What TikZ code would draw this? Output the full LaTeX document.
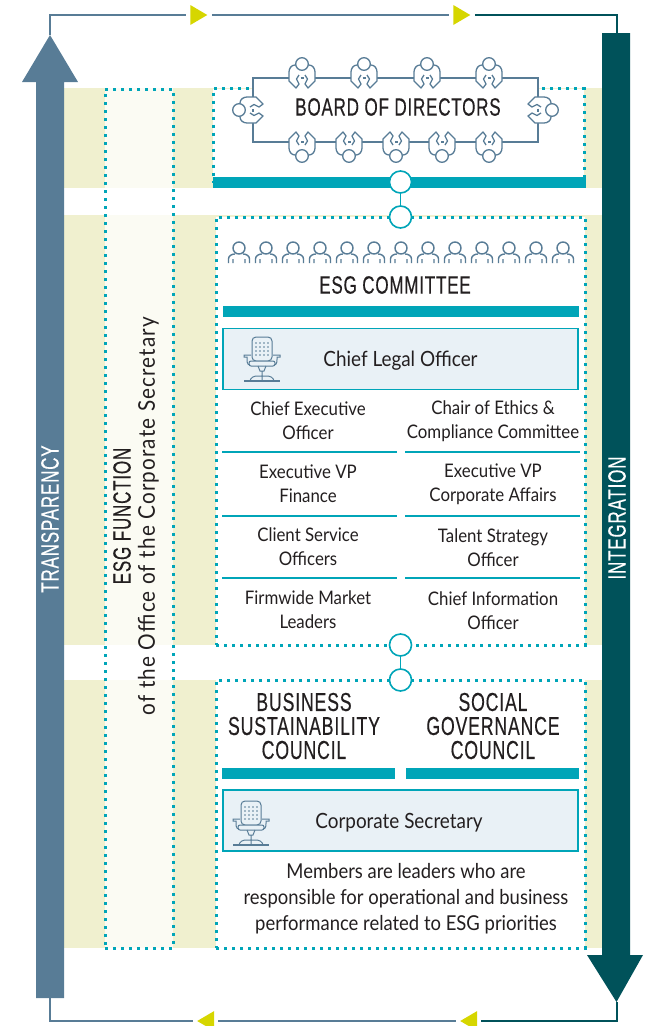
\documentclass[tikz,border=0pt]{standalone}
\usepackage{fontspec}
\usepackage{tikz}
\usetikzlibrary{positioning,calc,shapes.geometric}
\setmainfont[FakeStretch=0.9]{Lato}
\newfontfamily\headfont[FakeStretch=0.68,FakeBold=0.3,LetterSpace=3.2]{Liberation Sans}
\newfontfamily\widefont[FakeStretch=0.9,LetterSpace=5]{Lato}
\definecolor{esgteal}{HTML}{00A5B8}
\definecolor{esgblue}{HTML}{587C96}
\definecolor{esgdark}{HTML}{00525A}
\definecolor{esgband}{HTML}{F0F0CF}
\definecolor{esgpale}{HTML}{FBFBF3}
\definecolor{esgbox}{HTML}{E9F1F6}
\definecolor{esgtext}{HTML}{231F20}
\definecolor{esgyellow}{HTML}{D6D600}

\tikzset{
  seated/.pic={
    \fill[white] (-6,10) -- (-13,3) -- (-13,-13) -- (13,-13) -- (13,3) -- (6,10) -- cycle;
    \draw[esgblue,line width=1.3pt,line join=round]
      (-3,-3) -- (-5.5,1) -- (-3,6) -- (-6,10) -- (-13,3) -- (-13,-6) to[out=90,in=180] (-7,-13) -- (7,-13)
      to[out=0,in=90] (13,-6) -- (13,3) -- (6,10) -- (3,6) -- (5.5,1) -- (3,-3);
    \draw[esgblue,line width=1.1pt] (-1.5,0) -- (1.5,0);
    \draw[esgblue,line width=1.3pt,fill=white] (0,-14) circle[radius=6.3];
  },
  member/.pic={
    \draw[esgblue,line width=1.4pt] (0,-8) circle[radius=6];
    \draw[esgblue,line width=1.4pt] (-10.5,7) -- (-10.5,3) to[out=90,in=180] (-4,-2)
      (10.5,7) -- (10.5,3) to[out=90,in=0] (4,-2)
      (-6,7) -- (-6,3) (6,7) -- (6,3);
  },
  officechair/.pic={
    \draw[esgblue,line width=1pt,rounded corners=4pt] (-10,-20) rectangle (10,-44);
    \foreach \i in {-6,-2,2,6}
      \foreach \j in {-38,-34,-30,-26}
        \fill[esgblue] (\i,\j) circle[radius=.8];
    \draw[esgblue,line width=1pt,fill=esgbox,rounded corners=2pt] (-13,-20) rectangle (13,-15);
    \draw[esgblue,line width=1pt] (-4,-15) -- (-2,-10) -- (2,-10) -- (4,-15)
      (0,-10) -- (0,0)
      (-12,0) to[out=80,in=180] (-5,-5) -- (5,-5) to[out=0,in=100] (12,0)
      (-12,-16) to[out=180,in=-90] (-15,-24) -- (-18,-24) -- (-18,-26) -- (-11,-26)
      (12,-16) to[out=0,in=-90] (15,-24) -- (18,-24) -- (18,-26) -- (11,-26);
    \draw[esgblue,line width=1.6pt] (-18,0) -- (18,0);
  }
}

\begin{document}
\begin{tikzpicture}[x=1pt,y=-1pt,
  band/.style={fill=esgband},
  dots/.style={draw=esgteal,line width=3pt,dash pattern=on 3pt off 5pt},
  panel/.style={dots,fill=white,inner sep=0pt},
  bar/.style={fill=esgteal,inner sep=0pt,minimum height=11pt},
  linkdot/.style={circle,draw=esgteal,line width=1.6pt,fill=white,minimum size=22pt,inner sep=0pt},
  link/.style={draw=esgteal,line width=1.6pt},
  title/.style={font=\headfont\fontsize{25}{24}\selectfont,text=esgtext,align=center,inner sep=0pt},
  council/.style={title,font=\headfont\fontsize{26}{24}\selectfont},
  body/.style={font=\fontsize{18.7}{24}\selectfont,text=esgtext,align=center,inner sep=0pt},
  rolename/.style={body,font=\fontsize{21}{24}\selectfont},
  rolebox/.style={draw=esgteal,line width=1.8pt,fill=esgbox,inner sep=0pt,minimum width=355pt,minimum height=61pt},
  flag/.style={isosceles triangle,isosceles triangle stretches,fill=esgyellow,inner sep=0pt,
    minimum width=20pt,minimum height=17pt},
  blueline/.style={draw=esgblue,line width=2.4pt},
  darkline/.style={draw=esgdark,line width=2.4pt}]

  \useasboundingbox (0,0) rectangle (649,1026);

  % bands behind everything
  \foreach \ytop/\ybot in {88/188,215/645,680/948}{
    \fill[band] (64,\ytop) rectangle (602,\ybot);
    \fill[esgpale] (105,\ytop) rectangle (173,\ybot);
  }
  \node[dots,inner sep=0pt,minimum width=68pt,minimum height=859pt] (esgcolumn) at (139,518.5) {};
  \node[rotate=90,align=center,inner sep=0pt,text=esgtext] (esgfunction) at (136,516)
    {{\headfont\fontsize{25}{28}\selectfont ESG FUNCTION}\\[6pt]
     {\widefont\fontsize{23}{28}\selectfont of the Office of the Corporate Secretary}};

  % board
  \node[panel,minimum width=371pt,minimum height=94pt] (boardpanel) at (398.5,135.5) {};
  \node[draw=esgblue,line width=1.5pt,fill=white,inner sep=0pt,minimum width=285pt,minimum height=64pt] (board) at (395.5,110) {};
  \foreach \px in {302,364,427,489}
    \pic at (\px,78) {seated};
  \foreach \px in {302,349,396,442,489}
    \pic[rotate=180] at (\px,142) {seated};
  \pic[rotate=90] at (253,110) {seated};
  \pic[rotate=-90] at (538,110) {seated};
  \node[title] (boardtitle) at (398,107) {BOARD OF DIRECTORS};
  \node[bar,minimum width=373pt] (boardbar) at (399.5,182.5) {};

  % committee
  \node[panel,minimum width=369pt,minimum height=428pt] (esgpanel) at (400.5,431) {};
  \foreach \i in {0,...,12}
    \pic at (239+27*\i,256) {member};
  \node[title] (esgtitle) at (395,285) {ESG COMMITTEE};
  \node[bar,minimum width=356pt] (esgbar) at (401,311.5) {};
  \node[rolebox] (legal) at (400.5,359) {};
  \pic at (262,381) {officechair};
  \node[rolename] (legaltext) at (400.5,361) {Chief Legal Officer};

  \node[body] (ceo) at (308,420.5) {Chief Executive\\Officer};
  \node[body] (ethics) at (493,421.5) {Chair of Ethics \&\\Compliance Committee};
  \node[body] (finance) at (308,483.5) {Executive VP\\Finance};
  \node[body] (affairs) at (493,484.5) {Executive VP\\Corporate Affairs};
  \node[body] (client) at (308,546.5) {Client Service\\Officers};
  \node[body] (talent) at (493,547.5) {Talent Strategy\\Officer};
  \node[body] (market) at (308,609.5) {Firmwide Market\\Leaders};
  \node[body] (info) at (493,610.5) {Chief Information\\Officer};
  \foreach \ry in {452,516,578}{
    \draw[esgteal,line width=1.2pt] (222,\ry) -- (397,\ry);
    \draw[esgteal,line width=1.2pt] (405,\ry) -- (580,\ry);
  }

  % councils
  \node[panel,minimum width=369pt,minimum height=268pt] (councilpanel) at (400.5,814) {};
  \node[council] (business) at (304,726) {BUSINESS\\SUSTAINABILITY\\COUNCIL};
  \node[council] (social) at (493,726) {SOCIAL\\GOVERNANCE\\COUNCIL};
  \node[bar,minimum width=173pt] (businessbar) at (308.5,773.5) {};
  \node[bar,minimum width=173pt] (socialbar) at (492.5,773.5) {};
  \node[rolebox] (secretary) at (400.5,820.5) {};
  \pic at (251,845) {officechair};
  \node[rolename] (secretarytext) at (399,823) {Corporate Secretary};
  \node[body,font=\fontsize{20.5}{26}\selectfont] (members) at (406,899)
    {Members are leaders who are\\responsible for operational and business\\performance related to ESG priorities};

  % links
  \node[linkdot] (linka) at (400.5,182) {};
  \node[linkdot] (linkb) at (400.5,217) {};
  \node[linkdot] (linkc) at (400.5,645) {};
  \node[linkdot] (linkd) at (400.5,680) {};
  \draw[link] (linka) -- (linkb);
  \draw[link] (linkc) -- (linkd);

  % big arrows
  \fill[esgblue] (50,35) -- (78,82) -- (64,82) -- (64,998) -- (36,998) -- (36,82) -- (22,82) -- cycle;
  \fill[esgdark] (602,33) -- (630,33) -- (630,955) -- (643,955) -- (616.5,1002) -- (587,955) -- (602,955) -- cycle;
  \coordinate (transtip) at (50,35);
  \coordinate (transtail) at (50,998);
  \coordinate (integtail) at (617,33);
  \coordinate (integtip) at (617,1002);
  \node[rotate=90,font=\headfont\fontsize{25}{24}\selectfont,text=white,inner sep=0pt] (transparency) at (50,519) {TRANSPARENCY};
  \node[rotate=90,font=\headfont\fontsize{25}{24}\selectfont,text=white,inner sep=0pt] (integration) at (617,518) {INTEGRATION};

  % loop round the outside
  \node[flag] (flaga) at (196,15) {};
  \node[flag] (flagb) at (459,15) {};
  \node[flag,shape border rotate=180] (flagc) at (471.5,1021) {};
  \node[flag,shape border rotate=180] (flagd) at (208.5,1021) {};
  \draw[blueline,shorten >=4pt] (transtip) |- (flaga);
  \draw[blueline,shorten >=4pt,shorten <=4pt] (flaga) -- (flagb);
  \draw[darkline,shorten <=4pt] (flagb) -| (integtail);
  \draw[darkline,shorten >=4pt] (integtip) |- (flagc);
  \draw[blueline,shorten >=4pt,shorten <=4pt] (flagc) -- (flagd);
  \draw[blueline,shorten <=4pt] (flagd) -| (transtail);
\end{tikzpicture}
\end{document}
